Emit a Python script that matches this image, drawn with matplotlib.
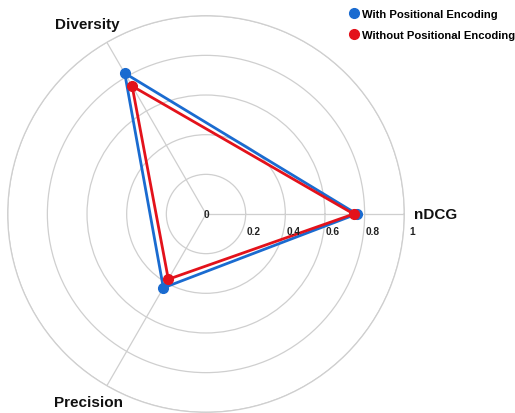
import numpy as np
import matplotlib
matplotlib.use("Agg")
import matplotlib.pyplot as plt
from matplotlib.lines import Line2D
from matplotlib.transforms import offset_copy

categories = ["nDCG", "Diversity", "Precision"]
with_pe = [0.76, 0.82, 0.43]
without_pe = [0.745, 0.745, 0.38]
series_names = ["With Positional Encoding", "Without Positional Encoding"]
r_ticks = [0.2, 0.4, 0.6, 0.8, 1.0]
r_tick_labels = ["0", "0.2", "0.4", "0.6", "0.8", "1"]

blue = "#1a6bd0"
red = "#e3121b"
grid_col = "#cfcfcf"

plt.rcParams["font.family"] = ["Liberation Sans", "DejaVu Sans"]

W, H = 515, 414
fig = plt.figure(figsize=(W / 100, H / 100), dpi=100)
cx, cy, R = 206.0, 215.0, 198.3
ax = fig.add_axes([(cx - R) / W, (H - cy - R) / H, 2 * R / W, 2 * R / H], projection="polar")

n = len(categories)
angles = [2 * np.pi * i / n for i in range(n)]
ax.set_ylim(0, 1)
ax.set_yticks(r_ticks)
ax.set_yticklabels([])
ax.set_xticks(angles)
ax.set_xticklabels([])
ax.grid(True, color=grid_col, linewidth=0.9)
ax.spines["polar"].set_color(grid_col)
ax.spines["polar"].set_linewidth(0.9)

def closed(v):
    return list(v) + [v[0]]

ang_c = closed(angles)
ax.plot(ang_c, closed(with_pe), color=blue, linewidth=2.0, zorder=3)
ax.plot(angles, with_pe, "o", color=blue, markersize=7, zorder=4)
ax.plot(ang_c, closed(without_pe), color=red, linewidth=2.0, zorder=5)
ax.plot(angles, without_pe, "o", color=red, markersize=7, zorder=6)

# radial tick labels
ax.text(0, 0, r_tick_labels[0], ha="center", va="center", fontsize=7.3,
        fontweight="bold", color="#222222", zorder=7)
trans = offset_copy(ax.transData, fig=fig, x=8, y=-17, units="dots")
for r, lab in zip(r_ticks, r_tick_labels[1:]):
    ax.text(0, r, lab, transform=trans, ha="center", va="center", fontsize=7.3,
            fontweight="bold", color="#222222", zorder=7)

# category labels (placed a little outside the outer ring)
label_pos = [(0.0, 1.16), (np.deg2rad(122), 1.13), (np.deg2rad(238), 1.12)]
for (a, lr), c in zip(label_pos, categories):
    ax.text(a, lr, c, ha="center", va="center", fontsize=11, fontweight="bold",
            color="#111111", clip_on=False)

handles = [Line2D([], [], marker="o", linestyle="", color=blue, markersize=7),
           Line2D([], [], marker="o", linestyle="", color=red, markersize=7)]
fig.legend(handles, series_names, loc="upper left", bbox_to_anchor=(345 / W, 1.0 - 5 / H),
           frameon=False, prop={"weight": "bold", "size": 8.1}, handlelength=0.8,
           handletextpad=0.3, labelspacing=1.0, borderaxespad=0)

fig.savefig("out.png", dpi=100)
